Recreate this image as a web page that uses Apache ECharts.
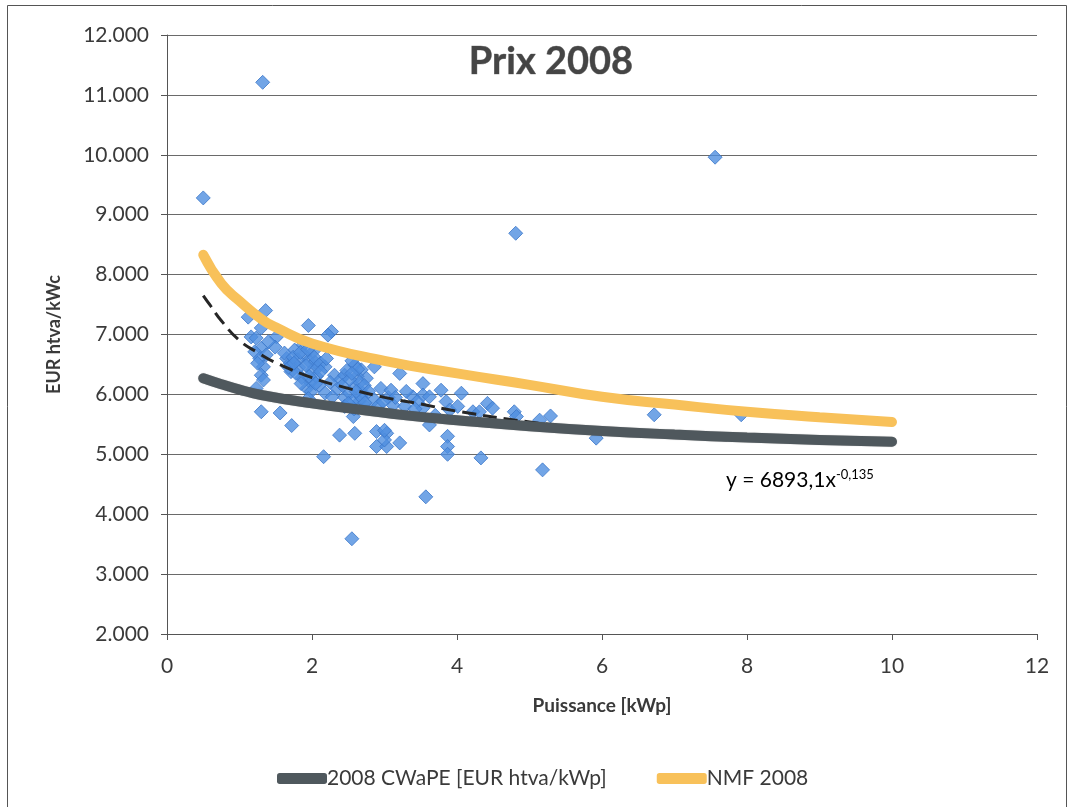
<!DOCTYPE html>
<html>
<head>
<meta charset="utf-8">
<script src="https://cdn.jsdelivr.net/npm/echarts@6/dist/echarts.min.js"></script>
<style>
html,body{margin:0;padding:0;background:#fff;}
#c{width:1070px;height:807px;}
</style>
</head>
<body>
<div id="c"></div>
<script>
// ---- Data ----
const scatterX = [
  0.50, 1.32, 7.56, 4.81, 5.18, 3.57, 2.55, 5.92, 6.72, 5.29, 4.33, 2.16, 7.92,
  1.12, 1.36, 1.30, 1.16, 1.23, 1.51, 1.49, 1.30, 1.21, 1.28, 1.37, 1.33, 1.30, 1.33, 1.23, 1.30, 1.56, 1.72,
  1.95, 2.27, 2.22,
  1.65, 1.70, 1.76, 1.82, 1.90, 1.86, 1.71, 1.95, 2.00, 2.04, 1.98, 1.93, 2.06, 2.10, 1.80, 1.88, 2.02,
  1.62, 1.68, 1.74, 1.78, 1.84, 1.92, 1.96, 2.03, 2.08, 1.99, 2.05, 1.85, 1.75, 2.12, 1.94,
  2.18, 2.31, 2.25, 2.18, 2.12, 2.35, 2.28, 2.20, 2.40, 2.45,
  1.95, 2.45, 2.45, 2.38, 2.59, 2.57, 2.89, 2.89, 3.03, 3.03, 3.21, 3.00,
  2.59, 2.68, 2.75, 2.59, 2.55, 2.62, 2.70, 2.52, 2.65, 2.75, 2.58, 2.66, 2.86, 2.86, 2.95, 3.05, 2.92,
  2.42, 2.48, 2.52, 2.57, 2.63, 2.68, 2.72, 2.78, 2.50, 2.61, 2.73, 2.55,
  3.21, 3.53, 3.78, 4.06, 3.09, 3.39, 3.53, 3.62, 3.85, 3.90, 3.12, 3.28, 3.53, 4.01, 4.22, 3.62, 3.00,
  3.15, 3.45, 3.30, 2.98, 3.42,
  3.87, 3.87, 3.87, 3.70,
  1.25, 1.40,
  4.42, 4.49, 4.31, 4.79, 4.82, 5.14
];
const scatterY = [
  9280, 11210, 9960, 8690, 4740, 4290, 3590, 5270, 5660, 5640, 4940, 4960, 5660,
  7290, 7400, 7110, 6960, 6940, 6960, 6790, 6770, 6710, 6600, 6660, 6460, 6320, 6240, 6100, 5710, 5690, 5480,
  7150, 7050, 6990,
  6600, 6520, 6740, 6450, 6660, 6280, 6380, 6560, 6400, 6540, 6200, 6100, 6300, 6150, 6580, 6830, 6720,
  6690, 6450, 6620, 6350, 6700, 6480, 6300, 6620, 6450, 6050, 6180, 6180, 6520, 6520, 6750,
  6460, 6320, 6200, 6020, 6380, 6090, 5960, 6600, 6250, 6320,
  5930, 5950, 5800, 5320, 5350, 5630, 5380, 5130, 5350, 5130, 5190, 5240,
  6490, 6410, 6270, 6130, 6560, 6300, 6020, 6020, 5880, 5790, 5760, 6200, 6460, 5910, 6100, 5950, 5820,
  6150, 6400, 6250, 5900, 6420, 5950, 6150, 6050, 5850, 6050, 5860, 6350,
  6350, 6180, 6070, 6020, 6070, 5960, 5990, 5960, 5880, 5740, 5820, 5800, 5770, 5800, 5710, 5490, 5400,
  5950, 5880, 6050, 5880, 5760,
  5300, 5130, 5000, 5650,
  6520, 6880,
  5850, 5770, 5710, 5710, 5630, 5570
];

const trendX = [0.5, 0.6, 0.75, 1.0, 1.25, 1.5, 2.0, 2.5, 3.0, 3.5, 4.0, 5.0, 6.0, 7.0, 7.9];
const trendY = [7650, 7480, 7230, 6900, 6700, 6530, 6280, 6100, 5950, 5840, 5720, 5540, 5400, 5300, 5230];

const cwapeX = [0.5, 0.75, 1.0, 1.3, 2.0, 2.7, 3.3, 4.0, 5.0, 6.0, 7.0, 8.0, 9.0, 10.0];
const cwapeY = [6270, 6170, 6080, 5990, 5850, 5740, 5650, 5570, 5470, 5390, 5330, 5280, 5240, 5210];

const nmfX = [0.5, 0.75, 1.0, 1.3, 1.5, 2.0, 3.0, 4.0, 5.0, 6.0, 7.0, 8.0, 9.0, 10.0];
const nmfY = [8330, 7850, 7560, 7260, 7120, 6850, 6560, 6350, 6160, 5960, 5830, 5710, 5620, 5540];

const xTicks = [0, 2, 4, 6, 8, 10, 12];
const yTickLabels = ['2.000','3.000','4.000','5.000','6.000','7.000','8.000','9.000','10.000','11.000','12.000'];

const titleText = 'Prix 2008';
const xName = 'Puissance [kWp]';
const yName = 'EUR htva/kWc';
const cwapeName = '2008 CWaPE [EUR htva/kWp]';
const nmfName = 'NMF 2008';
const eqMain = 'y = 6893,1x';
const eqExp = '-0,135';

// ---- Build ----
const zip = (xs, ys) => xs.map((x, i) => [x, ys[i]]);
const FONT = 'Lato, "Open Sans", sans-serif';
const TXT = '#3a3a3a';

const chart = echarts.init(document.getElementById('c'), null, {renderer: 'canvas'});
chart.setOption({
  backgroundColor: '#ffffff',
  animation: false,
  title: {
    text: titleText,
    left: 546, top: 38, textAlign: 'center',
    textStyle: {fontFamily: FONT, fontSize: 38, fontWeight: 'bold', color: '#454545',
      textBorderColor: '#8a8a8a', textBorderWidth: 0.6}
  },
  grid: {left: 167, right: 33, top: 35, bottom: 173, containLabel: false},
  legend: {
    left: 272, top: 763,
    data: [cwapeName, nmfName],
    itemWidth: 50, itemHeight: 11, itemGap: 50,
    icon: 'roundRect',
    textStyle: {fontFamily: FONT, fontSize: 21, color: TXT, padding: [0, 0, 0, -5]}
  },
  xAxis: {
    type: 'value', min: 0, max: 12, interval: 2,
    name: xName, nameLocation: 'middle', nameGap: 62,
    nameTextStyle: {fontFamily: FONT, fontSize: 19, fontWeight: 'bold', color: TXT},
    axisLine: {show: true, lineStyle: {color: '#555', width: 1}},
    axisTick: {show: true, length: 6, lineStyle: {color: '#555'}},
    axisLabel: {fontFamily: FONT, fontSize: 21, color: TXT, margin: 22,
      formatter: v => (xTicks.indexOf(v) >= 0 ? String(v) : '')},
    splitLine: {show: false}
  },
  yAxis: {
    type: 'value', min: 2000, max: 12000, interval: 1000,
    name: yName, nameLocation: 'middle', nameGap: 104, nameRotate: 90,
    nameTextStyle: {fontFamily: FONT, fontSize: 18, fontWeight: 'bold', color: TXT},
    axisLine: {show: true, lineStyle: {color: '#555', width: 1}},
    axisTick: {show: true, length: 6, lineStyle: {color: '#555'}},
    axisLabel: {fontFamily: FONT, fontSize: 21, color: TXT, margin: 18,
      formatter: v => yTickLabels[Math.round((v - 2000) / 1000)] || ''},
    splitLine: {show: true, lineStyle: {color: '#6a6a6a', width: 1}}
  },
  series: [
    {
      name: 'Data 2008', type: 'scatter', symbol: 'diamond', symbolSize: 14,
      data: zip(scatterX, scatterY), z: 2,
      itemStyle: {color: '#4f8fe0', borderColor: '#3b77c9', borderWidth: 1}
    },
    {
      name: 'Trend', type: 'line', smooth: true, showSymbol: false, symbol: 'none',
      data: zip(trendX, trendY), z: 3,
      lineStyle: {color: '#262626', width: 3, type: [14, 7]}
    },
    {
      name: cwapeName, type: 'line', smooth: true, showSymbol: false, symbol: 'none',
      data: zip(cwapeX, cwapeY), z: 4,
      itemStyle: {color: '#4f585d'},
      lineStyle: {color: '#4f585d', width: 10, cap: 'round', shadowColor: 'rgba(0,0,0,0.35)', shadowBlur: 1}
    },
    {
      name: nmfName, type: 'line', smooth: true, showSymbol: false, symbol: 'none',
      data: zip(nmfX, nmfY), z: 4,
      itemStyle: {color: '#f8c15a'},
      lineStyle: {color: '#f8c15a', width: 10, cap: 'round'}
    }
  ],
  graphic: [
    {
      type: 'rect', silent: true, z: -1,
      shape: {x: 7.5, y: 5.5, width: 1059, height: 812},
      style: {fill: 'none', stroke: '#555', lineWidth: 1}
    },
    {
      type: 'text', left: 726, top: 468, silent: true,
      style: {
        text: '{a|' + eqMain + '}{b|' + eqExp + '}',
        rich: {
          a: {fontFamily: FONT, fontSize: 21, color: TXT},
          b: {fontFamily: FONT, fontSize: 13, color: TXT, verticalAlign: 'top', padding: [0, 0, 11, 0]}
        }
      }
    }
  ]
});
</script>
</body>
</html>
